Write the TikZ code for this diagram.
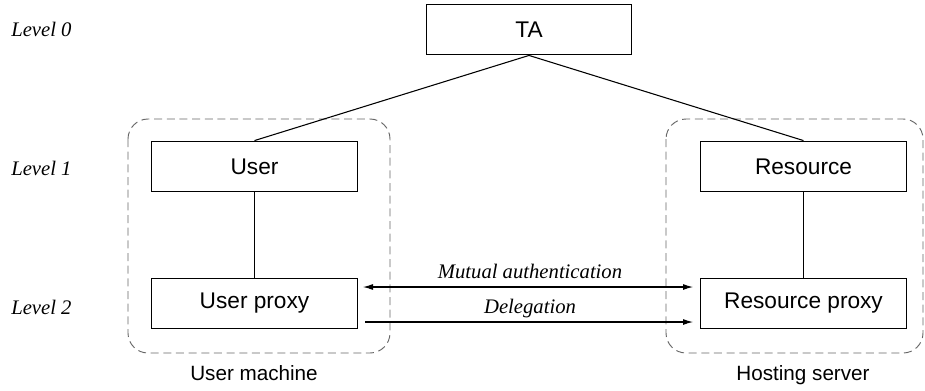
\documentclass[tikz,border=0pt]{standalone}
\usepackage{fontspec}
\setmainfont{Liberation Serif}
\setsansfont{Liberation Sans}
\usepackage{tikz}
\usetikzlibrary{
    arrows.meta,
    positioning
}
\tikzset{
    entity/.style={draw, line width=0.9pt, minimum width=154pt, minimum height=38pt,
        inner sep=0pt, font=\sffamily\fontsize{17}{20}\selectfont},
    lvl/.style={anchor=base west, inner sep=0pt, font=\itshape\fontsize{15.5}{18}\selectfont},
    msg/.style={anchor=base, inner sep=0pt, font=\itshape\fontsize{15.5}{18}\selectfont},
    host/.style={anchor=base, inner sep=0pt, font=\sffamily\fontsize{15.5}{18}\selectfont},
    group/.style={draw=black!60, dash pattern=on 6pt off 3.5pt, line width=0.7pt, rounded corners=15pt},
    >={Latex[length=7.5pt, width=4.5pt]}
}

\begin{document}
\begin{tikzpicture}[x=0.75pt, y=-0.75pt]
    \useasboundingbox (0, 0) rectangle (925, 390);
    % machines
    \draw[group] (128, 119) rectangle (390, 353);
    \draw[group] (666, 119) rectangle (923, 353);
    \node[host] (um) at (254, 380) {User machine};
    \node[host] (hs) at (803, 380) {Hosting server};
    % levels
    \node[lvl] (l0) at (11, 36) {Level 0};
    \node[lvl] (l1) at (11, 175) {Level 1};
    \node[lvl] (l2) at (11, 314) {Level 2};
    % entities
    \node[entity] (ta) at (529, 29.5) {TA};
    \node[entity] (usr) at (254.5, 166.5) {User};
    \node[entity] (res) at (803.5, 166.5) {Resource};
    \node[entity] (up) at (254.5, 303.5) {User proxy};
    \node[entity] (rp) at (803.5, 303.5) {Resource proxy};
    \coordinate (ma1) at (363, 287);
    \coordinate (ma2) at (693, 287);
    \coordinate (dg1) at (365, 322);
    \coordinate (dg2) at (693, 322);
    \draw[line width=0.8pt]
    (ta.south) edge (usr.north)
    (ta.south) edge (res.north)
    (usr) edge (up)
    (res) edge (rp)
    (ma1) edge[<->] (ma2)
    (dg1) edge[->] (dg2);
    \node[msg] (mal) at (530, 278) {Mutual authentication};
    \node[msg] (dgl) at (530, 313) {Delegation};
\end{tikzpicture}
\end{document}
